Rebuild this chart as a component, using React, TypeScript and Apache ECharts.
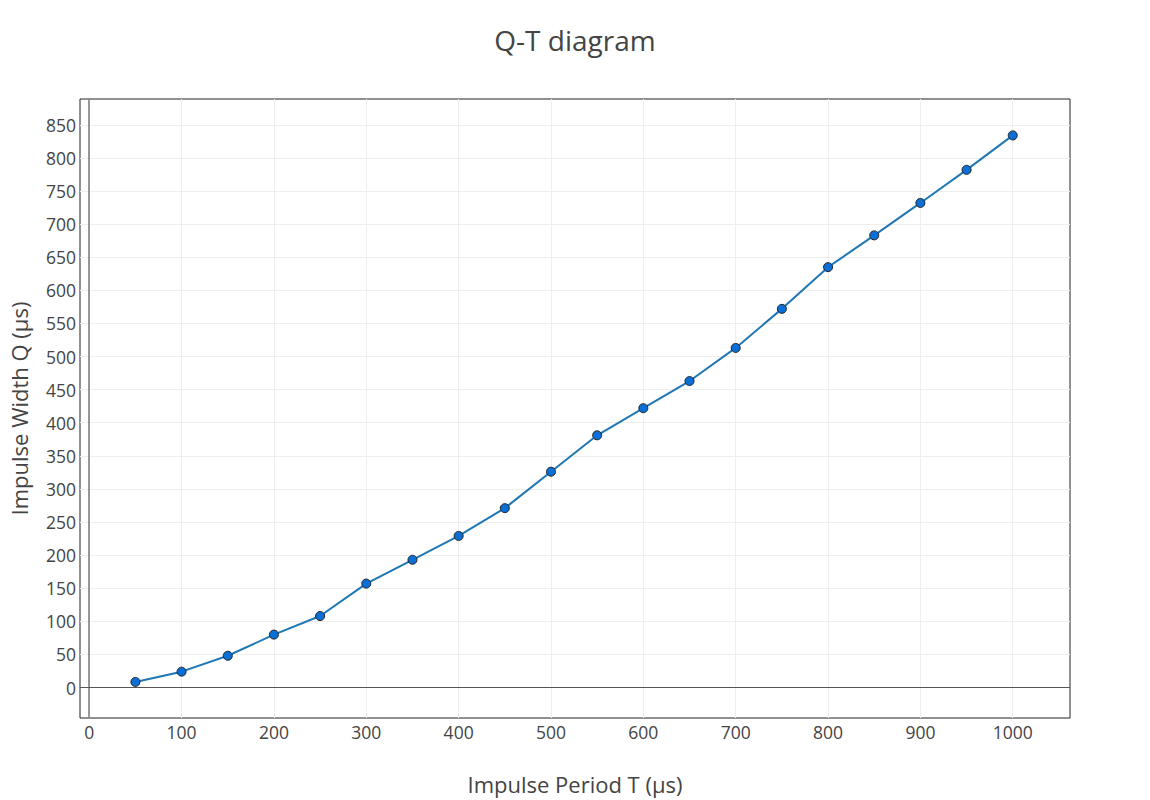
import React, { useEffect, useRef } from "react";
import * as echarts from "echarts";

const periods = [50, 100, 150, 200, 250, 300, 350, 400, 450, 500, 550, 600, 650, 700, 750, 800, 850, 900, 950, 1000];
const widths = [8.5, 24, 48, 80, 108, 157, 193, 229, 271, 326, 381, 422, 463, 513, 572, 635, 683, 732, 782, 834];
const xTicks = [0, 100, 200, 300, 400, 500, 600, 700, 800, 900, 1000];
const yTicks = [0, 50, 100, 150, 200, 250, 300, 350, 400, 450, 500, 550, 600, 650, 700, 750, 800, 850];

export default function App() {
  const ref = useRef<HTMLDivElement>(null);
  useEffect(() => {
    document.body.style.margin = "0";
    const chart = echarts.init(ref.current!, null, { renderer: "svg" });
    const font = "'Open Sans', 'Noto Sans', sans-serif";
    chart.setOption({
      animation: false,
      backgroundColor: "#fff",
      title: {
        text: "Q-T diagram",
        left: "center",
        top: 21,
        textStyle: { fontFamily: font, fontSize: 28, fontWeight: "normal", color: "#444" },
      },
      grid: {
        left: 79,
        right: 80,
        top: 99,
        bottom: 80,
        show: true,
        borderColor: "#222",
        borderWidth: 1,
        containLabel: false,
      },
      xAxis: {
        type: "value",
        min: -10,
        max: 1062,
        name: "Impulse Period T (µs)",
        nameLocation: "middle",
        nameGap: 55,
        nameTextStyle: { fontFamily: font, fontSize: 22, color: "#444" },
        axisLine: { show: false },
        axisTick: { show: false, customValues: xTicks },
        axisLabel: {
          customValues: xTicks,
          formatter: (v: number) => String(v),
          fontFamily: font,
          fontSize: 17.5,
          color: "#444",
          margin: 5,
        },
        splitLine: { show: true, lineStyle: { color: "#eeeeee", width: 1 } },
      },
      yAxis: {
        type: "value",
        min: -46,
        max: 889,
        name: "Impulse Width Q (µs)",
        nameLocation: "middle",
        nameGap: 50,
        nameTextStyle: { fontFamily: font, fontSize: 22, color: "#444" },
        axisLine: { show: false },
        axisTick: { show: false, customValues: yTicks },
        axisLabel: {
          customValues: yTicks,
          formatter: (v: number) => String(v),
          fontFamily: font,
          fontSize: 17.5,
          color: "#444",
          margin: 4,
        },
        splitLine: { show: true, lineStyle: { color: "#eeeeee", width: 1 } },
      },
      series: [
        {
          type: "line",
          data: periods.map((p, i) => [p, widths[i]]),
          symbol: "circle",
          symbolSize: 9,
          lineStyle: { color: "#1f77b4", width: 2 },
          itemStyle: { color: "#0a6fd6", borderColor: "#222", borderWidth: 1 },
          markLine: {
            silent: true,
            symbol: "none",
            label: { show: false },
            data: [
              { xAxis: 0, lineStyle: { color: "#777", width: 1.5, type: "solid" } },
              { yAxis: 0, lineStyle: { color: "#555", width: 1, type: "solid" } },
            ],
          },
          z: 3,
        },
      ],
    });
    return () => chart.dispose();
  }, []);
  return <div ref={ref} style={{ width: 1150, height: 800 }} />;
}
